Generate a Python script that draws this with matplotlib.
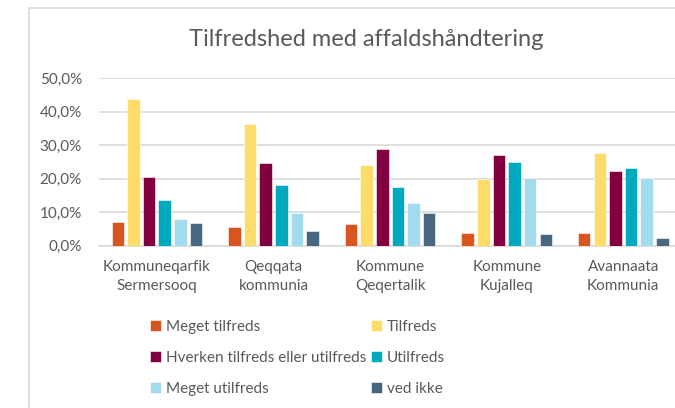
import numpy as np
import matplotlib.pyplot as plt
from matplotlib.patches import Rectangle
from matplotlib.ticker import FuncFormatter

plt.rcParams['font.family'] = ['Lato', 'DejaVu Sans']

kommuner = ['Kommuneqarfik\nSermersooq', 'Qeqqata\nkommunia', 'Kommune\nQeqertalik',
            'Kommune\nKujalleq', 'Avannaata\nKommunia']
svar = ['Meget tilfreds', 'Tilfreds', 'Hverken tilfreds eller utilfreds',
        'Utilfreds', 'Meget utilfreds', 'ved ikke']

meget_tilfreds = [7.0, 5.6, 6.5, 3.9, 3.9]
tilfreds = [43.6, 36.3, 24.0, 19.8, 27.6]
hverken = [20.4, 24.8, 28.7, 27.1, 22.4]
utilfreds = [13.7, 18.2, 17.4, 25.1, 23.1]
meget_utilfreds = [7.9, 9.7, 12.8, 20.1, 20.1]
ved_ikke = [6.8, 4.5, 9.7, 3.4, 2.2]

series = [meget_tilfreds, tilfreds, hverken, utilfreds, meget_utilfreds, ved_ikke]
colors = ['#DA5420', '#FEDC6A', '#820040', '#00A9BD', '#A2DAEE', '#47667F']

W, H = 675, 408
fig = plt.figure(figsize=(W / 100, H / 100), dpi=100)

# chart border (left and top edges visible)
fig.patches.append(Rectangle((29 / W, -0.1), 1.2, 1 - 8 / H + 0.1, transform=fig.transFigure,
                             fill=False, edgecolor='#d9d9d9', lw=1.2))

ax = fig.add_axes([98.6 / W, 1 - 245.7 / H, 583 / W, (245.7 - 78) / H])
x = np.arange(len(kommuner))
step = 0.134
bw = 0.107
handles = []
for i, (vals, c) in enumerate(zip(series, colors)):
    h = ax.bar(x + (i - 2.5) * step, np.array(vals) / 100, bw, color=c,
               edgecolor='white', lw=0.4, label=svar[i], zorder=3)
    handles.append(h)

ax.set_xlim(-0.5, 4.5)
ax.set_ylim(0, 0.5)
ax.set_yticks(np.arange(0, 0.51, 0.1))
ax.yaxis.set_major_formatter(FuncFormatter(lambda v, p: f'{v * 100:.1f}%'.replace('.', ',')))
ax.set_xticks(x)
ax.set_xticklabels(kommuner, linespacing=1.45)
ax.tick_params(length=0, colors='#595959', labelsize=11)
ax.tick_params(axis='x', pad=10)
ax.tick_params(axis='y', pad=12)
ax.grid(axis='y', color='#d9d9d9', lw=1.2, zorder=0)
for s in ['top', 'right', 'left']:
    ax.spines[s].set_visible(False)
ax.spines['bottom'].set_color('#d9d9d9')
ax.spines['bottom'].set_linewidth(1.2)

fig.text(366 / W, 1 - 40 / H, 'Tilfredshed med affaldshåndtering', ha='center', va='center',
         fontsize=17, color='#595959')

order = [0, 2, 4, 1, 3, 5]
fig.legend([handles[i] for i in order], [svar[i] for i in order], ncol=2,
           loc='upper left', bbox_to_anchor=(144 / W, 1 - 314 / H), frameon=False,
           fontsize=11, labelcolor='#595959', handlelength=0.7, handleheight=0.7,
           handletextpad=0.35, columnspacing=0.3, labelspacing=1.1, borderaxespad=0)

fig.savefig('out.png', dpi=100)
